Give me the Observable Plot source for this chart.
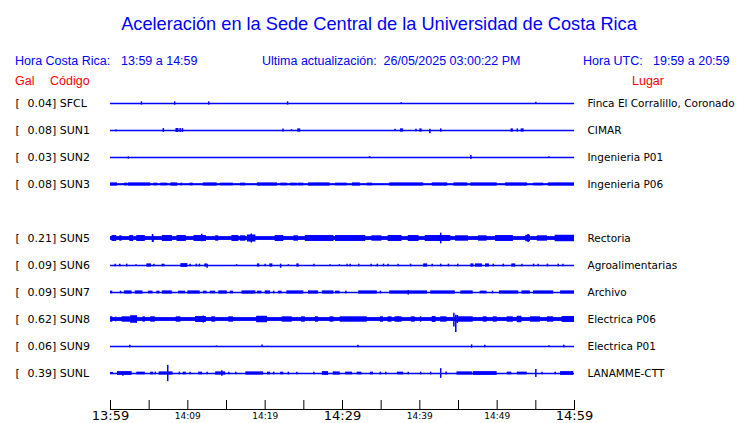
<!DOCTYPE html>
<html>
<head>
<meta charset="utf-8">
<script src="https://cdn.jsdelivr.net/npm/d3@7"></script>
<script src="https://cdn.jsdelivr.net/npm/@observablehq/plot@0.6"></script>
<style>
  html, body { margin: 0; padding: 0; background: #fff; }
  #page { position: relative; width: 740px; height: 423px; overflow: hidden; font-family: "Liberation Sans", Arial, sans-serif; }
  .h { position: absolute; white-space: pre; line-height: 1; }
  .blue { color: #0000ff; }
  .red { color: #ff0000; }
  #chart { position: absolute; left: 0; top: 88px; }
</style>
</head>
<body>
<div id="page">
  <div class="h blue" style="left:0;width:758px;text-align:center;top:15px;font-size:18.2px;">Aceleración en la Sede Central de la Universidad de Costa Rica</div>
  <div class="h blue" style="left:15px;top:55px;font-size:12.5px;">Hora Costa Rica:</div>
  <div class="h blue" style="left:121px;top:55px;font-size:12.5px;">13:59 a 14:59</div>
  <div class="h blue" style="left:262px;top:55px;font-size:12.5px;">Ultima actualización:  26/05/2025 03:00:22 PM</div>
  <div class="h blue" style="left:583px;top:55px;font-size:12.5px;">Hora UTC:</div>
  <div class="h blue" style="left:653px;top:55px;font-size:12.5px;">19:59 a 20:59</div>
  <div class="h red" style="left:15px;top:75px;font-size:12.5px;">Gal</div>
  <div class="h red" style="left:50px;top:75px;font-size:12.5px;">Código</div>
  <div class="h red" style="left:632px;top:75px;font-size:12.5px;">Lugar</div>
  <div id="chart"></div>
</div>
<script>
// ---- stations ----
const codes  = ["SFCL", "SUN1", "SUN2", "SUN3", "SUN5", "SUN6", "SUN7", "SUN8", "SUN9", "SUNL"];
const slots  = [0, 1, 2, 3, 5, 6, 7, 8, 9, 10];          // row order (slot 4 is empty)
const peaks  = ["0.04", "0.08", "0.03", "0.08", "0.21", "0.09", "0.09", "0.62", "0.06", "0.39"];
const places = ["Finca El Corralillo, Coronado", "CIMAR", "Ingenieria P01", "Ingenieria P06",
                "Rectoria", "Agroalimentarias", "Archivo", "Electrica P06", "Electrica P01", "LANAMME-CTT"];
// continuous background noise half-amplitude (row units)
const noise  = [0, 0, 0, 0.03, 0.07, 0, 0, 0.07, 0, 0];

// time axis: minutes after 13:59
const timeTicks  = [0, 5, 10, 15, 20, 25, 30, 35, 40, 45, 50, 55, 60];
const bigTicks   = [0, 30, 60];
const bigLabels  = ["13:59", "14:29", "14:59"];
const smallTicks = [10, 20, 40, 50];
const smallLabels = ["14:09", "14:19", "14:39", "14:49"];

// single spikes: [minute, up, down] (row units)
const sfclSpikes = [[4.0,0.06,0.06],[8.3,0.06,0.06],[12.7,0.06,0.06],[22.9,0.06,0.06],[37.6,0.03,0.03],[55.0,0.05,0.02]];
const sun1Spikes = [[0.7,0.02,0.05],[8.5,0.07,0.07],[8.7,0.07,0.07],[9.0,0.07,0.07],[9.3,0.07,0.07],[22.3,0.06,0.06],[23.4,0.03,0.03],
                    [36.8,0.05,0.02],[39.5,0.05,0.05],[41.3,0.05,0.12],[42.7,0.06,0.06],[52.6,0.06,0.06]];
const sun1Bursts = [[6.8,7.0,0.07],[24.2,24.6,0.06],[37.5,37.9,0.06],[40.0,40.3,0.06],[51.8,52.1,0.06],[53.1,53.5,0.06]];
const sun2Spikes = [[2.3,0.02,0.06],[33.5,0.03,0.03],[46.6,0.07,0.07],[56.7,0.03,0.01]];
const sun3Bursts = [[0.0,0.9,0.06],[1.8,2.2,0.05],[2.3,5.2,0.06],[5.6,6.1,0.05],[6.5,7.4,0.05],[7.8,8.7,0.06],[9.1,9.3,0.05],
                    [10.3,10.7,0.05],[12.0,13.8,0.06],[14.2,15.9,0.05],[16.8,17.5,0.05],[19.0,21.6,0.06],[22.0,22.9,0.05],
                    [23.3,24.2,0.05],[24.3,25.0,0.05],[25.6,28.4,0.06],[29.1,30.6,0.05],[31.3,32.3,0.06],[33.2,33.9,0.05],
                    [36.1,40.5,0.06],[41.6,43.6,0.06],[44.4,46.2,0.06],[46.6,50.0,0.06],[51.1,53.9,0.06],[54.7,56.0,0.05],[56.6,60.0,0.06]];
const sun5Bursts = [[0.2,0.8,0.11],[1.2,1.5,0.1],[2.5,3.0,0.11],[3.4,4.5,0.11],[5.4,5.6,0.15],[6.7,8.0,0.11],[8.6,9.8,0.11],
                    [10.8,12.4,0.11],[13.6,14.0,0.1],[15.7,16.6,0.11],[16.8,17.5,0.1],[17.7,18.8,0.13],[21.3,22.4,0.11],
                    [23.7,24.3,0.1],[25.2,28.9,0.11],[29.1,33.0,0.11],[33.8,35.1,0.1],[35.9,37.7,0.11],[38.5,39.9,0.11],
                    [40.7,44.0,0.11],[44.6,46.3,0.1],[47.6,48.7,0.1],[49.8,52.1,0.11],[53.7,54.3,0.12],[55.2,56.5,0.1],[57.5,60.0,0.12]];
const sun5Spikes = [[5.5,0.08,0.15],[11.8,0.16,0.12],[18.2,0.17,0.17],[42.7,0.2,0.2],[54.0,0.15,0.15]];
const sun6Spikes = [[0.6,0.05,0.05],[1.2,0.05,0.05],[2.1,0.05,0.05],[3.3,0.03,0.03],[5.6,0.05,0.05],[6.7,0.05,0.05],[6.9,0.05,0.05],
                    [10.3,0.05,0.05],[11.1,0.05,0.05],[11.5,0.05,0.05],[12.5,0.05,0.1],[16.3,0.03,0.03],[20.0,0.05,0.05],
                    [22.0,0.05,0.1],[23.0,0.03,0.03],[26.3,0.05,0.05],[28.4,0.03,0.03],[29.6,0.03,0.03],[30.6,0.05,0.05],
                    [31.0,0.05,0.05],[32.1,0.05,0.05],[33.7,0.05,0.05],[34.5,0.05,0.05],[35.3,0.05,0.05],[35.9,0.05,0.05],
                    [37.2,0.05,0.05],[38.8,0.05,0.05],[41.6,0.05,0.05],[42.7,0.05,0.05],[43.7,0.05,0.05],[44.9,0.05,0.05],
                    [49.5,0.05,0.05],[50.8,0.05,0.05],[53.2,0.05,0.05],[54.7,0.05,0.05],[55.3,0.05,0.05],[56.5,0.05,0.05],
                    [57.9,0.05,0.05],[58.5,0.05,0.05]];
const sun6Bursts = [[4.7,5.3,0.06],[9.1,10.0,0.07],[12.2,12.5,0.06],[19.0,19.3,0.06],[20.6,21.0,0.06],[24.1,24.4,0.06],
                    [40.5,41.0,0.06],[46.6,47.0,0.06],[47.2,48.1,0.06],[48.5,49.0,0.06],[51.9,52.4,0.06]];
const sun7Bursts = [[0.0,0.3,0.05],[1.8,2.8,0.06],[3.2,4.2,0.06],[4.9,5.5,0.05],[6.0,6.4,0.05],[6.7,8.0,0.06],[8.8,9.7,0.05],
                    [10.0,11.6,0.06],[12.0,12.5,0.05],[12.9,13.6,0.05],[14.0,15.1,0.06],[15.5,15.9,0.05],[17.0,18.8,0.06],
                    [19.0,19.6,0.05],[20.0,20.7,0.06],[21.7,22.2,0.05],[22.8,25.0,0.06],[25.6,26.9,0.06],[27.4,28.9,0.06],
                    [29.1,29.7,0.05],[30.4,30.6,0.05],[32.1,34.5,0.06],[36.1,41.0,0.06],[41.4,44.6,0.06],[45.3,46.9,0.06],
                    [47.8,48.7,0.05],[50.3,52.8,0.06],[53.2,54.3,0.06],[54.7,57.3,0.06],[58.2,60.0,0.06]];
const sun7Spikes = [[1.3,0.05,0.05],[21.1,0.05,0.05],[34.9,0.05,0.05],[49.4,0.05,0.05],[38.5,0.07,0.09]];
const sun8Bursts = [[0.0,0.3,0.1],[0.7,0.8,0.1],[1.5,2.6,0.1],[2.6,3.5,0.14],[4.2,4.5,0.1],[5.2,5.8,0.1],[8.5,9.1,0.1],
                    [11.0,12.4,0.11],[13.1,13.6,0.1],[15.3,15.9,0.1],[18.9,20.3,0.12],[22.2,23.5,0.1],[24.7,25.2,0.1],
                    [26.5,26.9,0.1],[28.4,28.9,0.1],[29.7,33.2,0.1],[34.9,35.3,0.1],[35.9,36.4,0.1],[36.8,37.7,0.1],
                    [38.9,39.4,0.1],[41.6,42.1,0.11],[42.7,43.5,0.1],[44.8,46.9,0.1],[48.2,48.7,0.1],[49.5,50.0,0.1],
                    [51.3,52.1,0.1],[52.6,53.2,0.12],[54.3,55.6,0.1],[56.5,57.3,0.1],[58.4,60.0,0.11]];
const sun8Spikes = [[12.0,0.13,0.13],[37.2,0.1,0.1],[40.1,0.1,0.1],[44.4,0.23,0.28],[44.65,0.16,0.48],[44.85,0.15,0.15]];
const sun9Spikes = [[2.5,0.05,0.05],[13.7,0.02,0.03],[19.6,0.06,0.03],[20.3,0.01,0.03],[32.0,0.05,0.05],[46.7,0.06,0.06],
                    [48.4,0.05,0.05],[56.7,0.03,0.01],[58.6,0.05,0.05]];
const sunlBursts = [[0.0,0.4,0.04],[0.9,2.8,0.07],[3.4,4.5,0.05],[5.2,5.6,0.05],[6.3,8.1,0.06],[9.4,9.8,0.05],[11.4,11.9,0.05],
                    [13.6,14.9,0.06],[17.5,19.8,0.06],[20.3,20.7,0.05],[22.0,22.4,0.05],[27.4,28.2,0.07],[28.8,29.7,0.06],
                    [30.4,31.3,0.05],[31.9,32.5,0.05],[33.6,34.0,0.05],[37.1,37.9,0.05],[44.8,46.8,0.06],[46.9,50.0,0.07],
                    [51.3,51.9,0.05],[52.6,53.9,0.05],[58.2,59.9,0.07]];
const sunlSpikes = [[1.6,0.06,0.1],[5.8,0.05,0.05],[7.4,0.3,0.3],[8.9,0.05,0.05],[10.3,0.05,0.05],[12.5,0.05,0.05],[14.4,0.1,0.1],
                    [15.3,0.05,0.05],[16.2,0.05,0.05],[21.1,0.05,0.05],[23.0,0.05,0.05],[24.1,0.05,0.05],[26.3,0.05,0.05],
                    [34.9,0.05,0.05],[35.6,0.05,0.05],[38.5,0.05,0.05],[40.1,0.05,0.05],[41.4,0.05,0.05],[42.7,0.18,0.18],
                    [43.4,0.06,0.06],[55.0,0.15,0.15],[55.8,0.05,0.05],[57.5,0.05,0.05]];

const spikeSets = {SFCL: sfclSpikes, SUN1: sun1Spikes, SUN2: sun2Spikes, SUN5: sun5Spikes, SUN6: sun6Spikes,
                   SUN7: sun7Spikes, SUN8: sun8Spikes, SUN9: sun9Spikes, SUNL: sunlSpikes};
const burstSets = {SUN1: sun1Bursts, SUN3: sun3Bursts, SUN5: sun5Bursts, SUN6: sun6Bursts, SUN7: sun7Bursts,
                   SUN8: sun8Bursts, SUNL: sunlBursts};

// ---- tables built from the arrays ----
const rows = codes.map((code, i) => ({code, slot: slots[i], peak: peaks[i], place: places[i], noise: noise[i]}));
const slotOf = Object.fromEntries(rows.map(r => [r.code, r.slot]));
const spikes = Object.entries(spikeSets).flatMap(([code, arr]) =>
  arr.map(([t, up, down]) => ({code, t, top: slotOf[code] - up, bottom: slotOf[code] + down})));
const bursts = Object.entries(burstSets).flatMap(([code, arr]) =>
  arr.map(([t0, t1, a]) => ({code, t0, t1, top: slotOf[code] - a, bottom: slotOf[code] + a})));
const bands = rows.filter(r => r.noise > 0).map(r => ({top: r.slot - r.noise, bottom: r.slot + r.noise}));

const BLUE = "#0000ff";
const chart = Plot.plot({
  width: 740,
  height: 335,
  marginLeft: 110,
  marginRight: 166,
  marginTop: 0,
  marginBottom: 14,
  style: {fontFamily: "DejaVu Sans", fontSize: "11px", color: "#000", background: "#fff", overflow: "visible"},
  x: {domain: [0, 60], axis: null},
  y: {domain: [0, 10], range: [15, 285], axis: null},
  marks: [
    Plot.rect(bands, {y1: "top", y2: "bottom", fill: BLUE}),
    Plot.ruleY(rows, {y: "slot", stroke: BLUE, strokeWidth: 1.6}),
    Plot.rect(bursts, {x1: "t0", x2: "t1", y1: "top", y2: "bottom", fill: BLUE}),
    Plot.ruleX(spikes, {x: "t", y1: "top", y2: "bottom", stroke: BLUE, strokeWidth: 1.5}),
    Plot.text(rows, {y: "slot", text: () => "[", frameAnchor: "left", dx: -95, textAnchor: "start", fill: "#000"}),
    Plot.text(rows, {y: "slot", text: d => `${d.peak}] ${d.code}`, frameAnchor: "left", dx: -83, textAnchor: "start", fill: "#000"}),
    Plot.text(rows, {y: "slot", text: "place", frameAnchor: "right", dx: 13, textAnchor: "start", fill: "#000", fontSize: 10.5}),
    Plot.frame({anchor: "bottom", stroke: "#000"}),
    Plot.axisX(timeTicks, {tickSize: -9, tickFormat: () => "", stroke: "#000"}),
    Plot.axisX(bigTicks, {tickSize: 0, tickPadding: 1, tickFormat: (d, i) => bigLabels[i], fontSize: 13, fill: "#000"}),
    Plot.axisX(smallTicks, {tickSize: 0, tickPadding: 3, tickFormat: (d, i) => smallLabels[i], fontSize: 9, fill: "#000"})
  ]
});
document.getElementById("chart").appendChild(chart);
</script>
</body>
</html>
